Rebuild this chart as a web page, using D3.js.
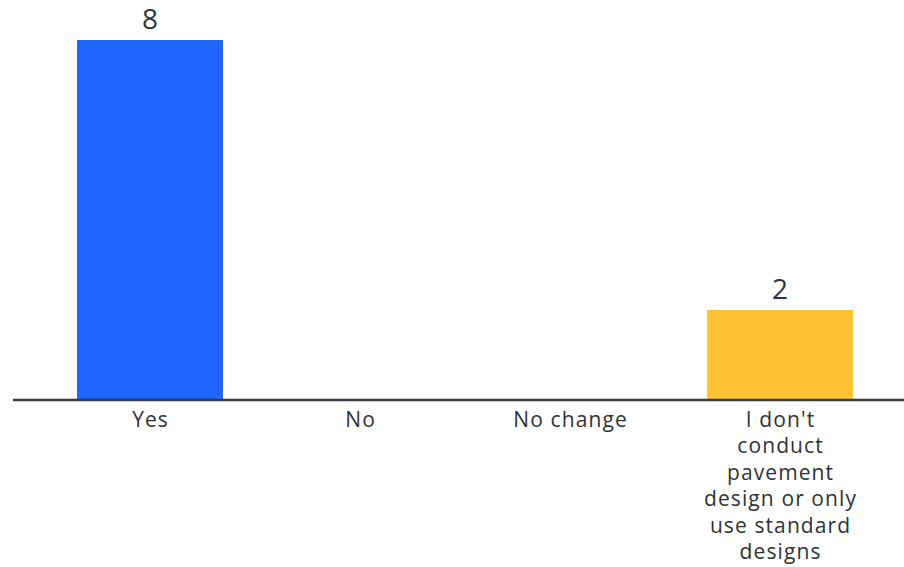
<!DOCTYPE html>
<html>
<head>
<meta charset="utf-8">
<script src="https://cdn.jsdelivr.net/npm/d3@7"></script>
<style>
  html, body { margin: 0; padding: 0; background: #fff; }
  svg { display: block; }
  text { font-family: "Open Sans", Lato, sans-serif; fill: #2f3237; }
</style>
</head>
<body>
<svg id="chart" width="904" height="567"></svg>
<script>
// Survey responses
const categories = ["Yes", "No", "No change", "I don't conduct pavement design or only use standard designs"];
const categoryLines = [
  ["Yes"],
  ["No"],
  ["No change"],
  ["I don't", "conduct", "pavement", "design or only", "use standard", "designs"]
];
const counts = [8, 0, 0, 2];
const barColors = ["#1f66ff", "#1f66ff", "#1f66ff", "#ffc233"];

const svg = d3.select("#chart");
const baseline = 400;

const x = d3.scaleBand()
  .domain(categories)
  .range([45, 885])
  .paddingInner(0.305)
  .paddingOuter(0.1525);

const y = d3.scaleLinear()
  .domain([0, 8])
  .range([baseline, 40]);

// Bars
svg.append("g")
  .selectAll("rect")
  .data(categories.filter((c, i) => counts[i] > 0))
  .join("rect")
  .attr("x", d => x(d))
  .attr("width", x.bandwidth())
  .attr("y", d => y(counts[categories.indexOf(d)]))
  .attr("height", d => baseline - y(counts[categories.indexOf(d)]))
  .attr("fill", d => barColors[categories.indexOf(d)]);

// Value labels above non-empty bars
svg.append("g")
  .selectAll("text")
  .data(categories.filter((c, i) => counts[i] > 0))
  .join("text")
  .attr("x", d => x(d) + x.bandwidth() / 2)
  .attr("y", d => y(counts[categories.indexOf(d)]) - 11)
  .attr("text-anchor", "middle")
  .style("font-size", "28px")
  .text(d => counts[categories.indexOf(d)]);

// Category axis
const axis = svg.append("g")
  .attr("transform", `translate(0,${baseline})`)
  .call(d3.axisBottom(x).tickSize(0).tickFormat(""));
axis.select(".domain").remove();
axis.append("line")
  .attr("x1", 13).attr("x2", 904)
  .attr("y1", 0).attr("y2", 0)
  .attr("stroke", "#363b42")
  .attr("stroke-width", 2.5);

const spacing = 1.1;
axis.selectAll(".tick").each(function(d, i) {
  const t = d3.select(this).append("text")
    .attr("text-anchor", "middle")
    .attr("y", 27)
    .style("font-size", "21px")
    .style("letter-spacing", spacing + "px");
  categoryLines[i].forEach((line, j) => {
    t.append("tspan")
      .attr("x", spacing / 2)
      .attr("dy", j === 0 ? 0 : 26.4)
      .text(line);
  });
});
</script>
</body>
</html>
